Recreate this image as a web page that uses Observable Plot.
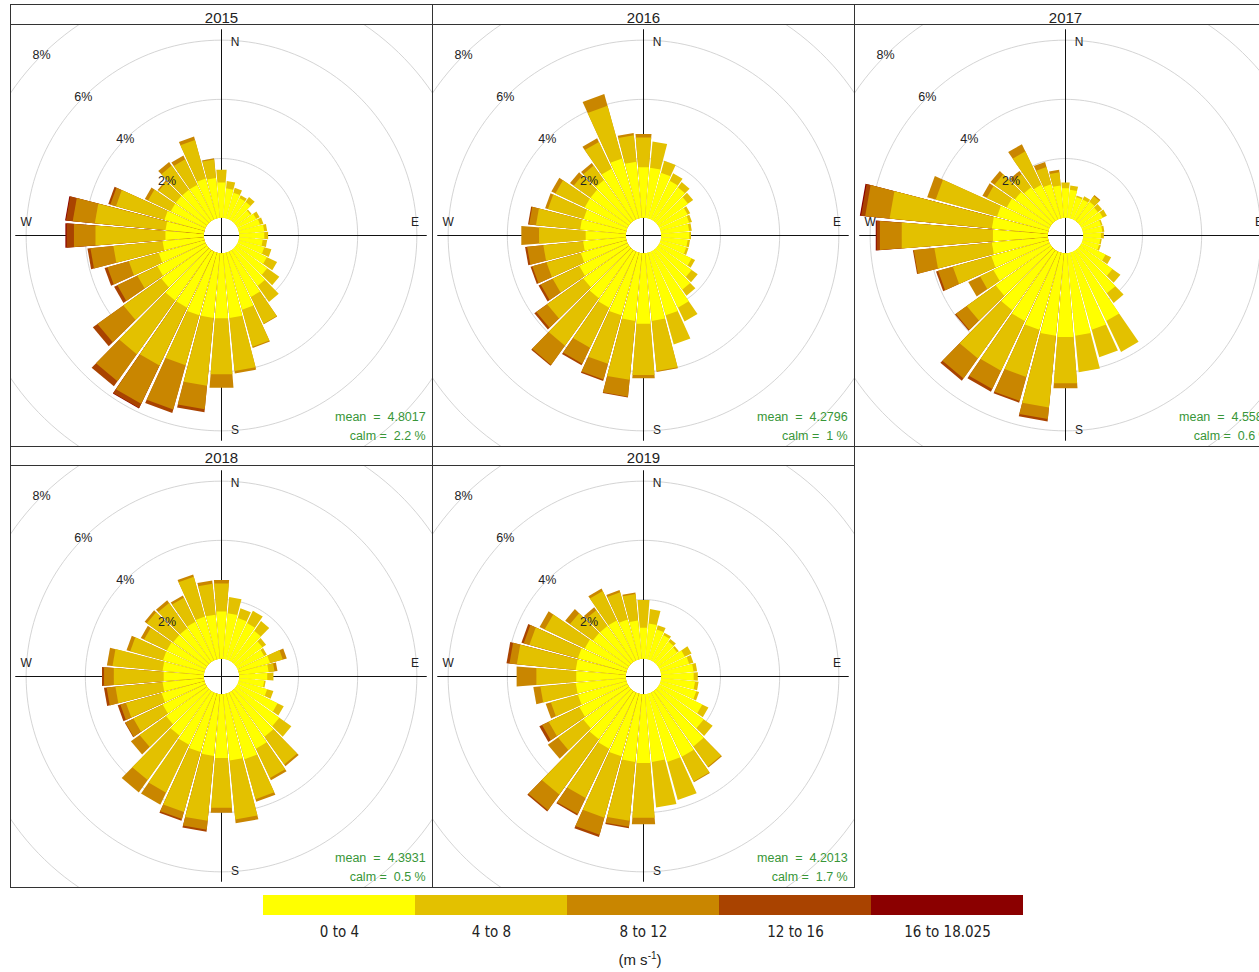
<!DOCTYPE html>
<html>
<head>
<meta charset="utf-8">
<script src="https://cdn.jsdelivr.net/npm/d3@7"></script>
<script src="https://cdn.jsdelivr.net/npm/@observablehq/plot@0.6"></script>
<style>
html, body { margin: 0; padding: 0; background: #fff; overflow: hidden; }
#root { position: relative; width: 1300px; height: 972px; overflow: hidden; }
.strip { position: absolute; box-sizing: border-box; border: 1px solid #333; background: #fff;
  font: 15px "Liberation Sans", Arial, sans-serif; color: #222; text-align: center; overflow: hidden; }
.panel { position: absolute; box-sizing: border-box; border: 1px solid #333; background: #fff; }
.panel svg { display: block; }
.unit { position: absolute; font: 15px "Liberation Sans Narrow", "Arial Narrow", sans-serif; color: #222; text-align: center; }
.unit sup { font-size: 10px; }
</style>
</head>
<body>
<div id="root"></div>
<script>
// ---------- categories ----------
const years = ["2015", "2016", "2017", "2018", "2019"];
const directions = [10,20,30,40,50,60,70,80,90,100,110,120,130,140,150,160,170,180,190,200,210,220,230,240,250,260,270,280,290,300,310,320,330,340,350,360];
const speedBins = ["0 to 4", "4 to 8", "8 to 12", "12 to 16", "16 to 18.025"];
const binColors = ["#FFFF00", "#E3C100", "#C98600", "#A94300", "#8B0000"];
const pctTicks = [2, 4, 6, 8, 10];
const pctTickLabels = ["2%", "4%", "6%", "8%"];
const cardinalLabels = ["N", "E", "S", "W"];
const meanValues = ["4.8017", "4.2796", "4.5581", "4.3931", "4.2013"];
const calmValues = ["2.2", "1", "0.6", "0.5", "1.7"];

// ---------- frequencies (% of time) by direction, one array per speed bin ----------
const y2015_0to4  = [1.0,0.9,0.8,0.8,0.6,0.7,0.75,0.85,0.85,0.8, 0.9,1.1,1.3,1.5,1.7,2.0,2.2,2.2,2.2,2.2, 2.1,2.1,1.9,1.8,1.6,1.4,1.3,1.3,1.4,1.3, 1.3,1.3,1.3,1.4,1.35,1.2];
const y2015_4to8  = [0.25,0.17,0.11,0.2,0.05,0.13,0.12,0.1,0.13,0.15, 0.25,0.38,0.5,0.66,1.0,1.3,1.8,1.9,2.3,1.75, 2.17,2.23,1.57,0.75,1.05,1.67,2.37,2.4,1.7,0.85, 0.7,1.0,0.95,1.35,0.63,0.43];
const y2015_8to12 = [0,0,0,0,0,0,0,0,0,0, 0,0,0,0,0.02,0.04,0.08,0.46,0.8,1.55, 1.43,1.12,1.08,0.75,0.75,0.78,0.73,0.75,0.2,0.12, 0.05,0.15,0.14,0.12,0.04,0];
const y2015_12to16= [0,0,0,0,0,0,0,0,0,0, 0,0,0,0,0,0,0,0,0.1,0.12, 0.16,0.21,0.19,0.12,0.1,0.1,0.25,0.23,0.07,0, 0,0,0,0,0,0];
const y2015_16up  = [0,0,0,0,0,0,0,0,0,0, 0,0,0,0,0,0,0,0,0,0, 0.02,0,0,0,0,0,0.04,0.03,0,0, 0,0,0,0,0,0];

const y2016_0to4  = [1.7,1.6,1.45,1.4,1.25,1.05,1.0,0.95,0.95,0.9, 0.9,1.2,1.4,1.65,2.1,2.2,2.3,2.39,2.3,2.2, 2.1,2.0,1.9,1.8,1.6,1.45,1.36,1.55,1.5,1.6, 1.6,1.7,1.9,2.1,1.9,1.71];
const y2016_4to8  = [0.89,0.42,0.28,0.22,0.21,0.1,0.1,0.09,0.06,0.08, 0.08,0.13,0.25,0.25,0.52,1.02,1.7,1.74,2.0,1.7, 1.5,1.97,1.5,1.0,1.2,1.35,1.58,1.5,1.25,1.1, 0.7,0.6,1.0,1.85,0.9,1.01];
const y2016_8to12 = [0,0,0,0,0,0,0,0,0,0, 0,0,0,0,0,0,0.03,0.11,0.57,0.55, 0.6,0.8,0.45,0.45,0.5,0.55,0.6,0.23,0.1,0.15, 0.15,0.11,0.14,0.41,0.08,0.12];
const y2016_12to16= [0,0,0,0,0,0,0,0,0,0, 0,0,0,0,0,0,0,0,0.03,0.05, 0.06,0.04,0.08,0.08,0.06,0.07,0,0.04,0,0, 0,0,0,0,0,0];
const y2016_16up  = [0,0,0,0,0,0,0,0,0,0, 0,0,0,0,0,0,0,0,0,0, 0,0,0,0,0,0,0,0,0,0, 0,0,0,0,0,0];

const y2017_0to4  = [0.95,0.75,0.75,0.8,0.75,0.8,0.65,0.65,0.6,0.58, 0.58,0.9,1.35,1.8,2.6,2.7,2.8,2.84,2.8,2.7, 2.6,2.5,2.3,2.1,2.0,1.9,1.86,1.9,1.8,1.6, 1.5,1.4,1.3,1.2,1.1,1.0];
const y2017_4to8  = [0.15,0.05,0.12,0.24,0.17,0.15,0.05,0.07,0.1,0.05, 0.06,0.21,0.33,0.4,1.16,0.97,1.24,1.57,2.44,1.66, 1.86,2.0,1.2,0.5,1.35,1.95,3.09,3.47,2.15,0.75, 0.85,0.55,1.25,0.6,0.45,0.2];
const y2017_8to12 = [0,0,0,0.04,0,0,0,0,0,0, 0,0,0,0,0,0,0,0.17,0.39,0.84, 0.69,0.83,0.45,0.44,0.52,0.7,0.74,0.83,0.3,0.16, 0.16,0.13,0.27,0.18,0.08,0];
const y2017_12to16= [0,0,0,0,0,0,0,0,0,0, 0,0,0,0,0,0,0,0,0.08,0.06, 0.1,0.1,0.04,0,0.07,0.03,0.11,0.14,0,0, 0,0,0,0,0,0];
const y2017_16up  = [0,0,0,0,0,0,0,0,0,0, 0,0,0,0,0,0,0,0,0,0, 0,0,0,0,0,0,0.03,0.04,0,0, 0,0,0,0,0,0];

const y2018_0to4  = [1.55,1.45,1.4,1.3,1.1,1.0,1.1,1.0,0.95,0.85, 1.0,1.5,1.8,1.9,2.1,2.3,2.25,2.16,2.1,2.05, 1.95,1.85,1.7,1.6,1.5,1.4,1.36,1.4,1.45,1.45, 1.4,1.4,1.45,1.5,1.5,1.6];
const y2018_4to8  = [0.55,0.34,0.46,0.4,0.15,0.1,0.45,0.2,0.21,0.05, 0.22,0.23,0.5,1.15,1.1,1.4,2.0,1.69,2.2,2.1, 1.8,1.85,1.1,1.1,1.25,1.6,1.69,1.7,1.15,0.85, 1.1,1.05,0.9,1.4,1.05,0.95];
const y2018_8to12 = [0,0,0,0,0,0,0.14,0.1,0,0, 0,0,0,0.07,0.08,0.09,0.13,0.17,0.3,0.25, 0.45,0.51,0.36,0.3,0.2,0.3,0.33,0.19,0.13,0.12, 0.09,0.11,0.08,0.08,0.11,0.12];
const y2018_12to16= [0,0,0,0,0,0,0,0,0,0, 0,0,0,0,0,0,0,0,0.07,0.06, 0,0,0,0.02,0.09,0.09,0.07,0,0,0, 0,0,0,0,0,0];
const y2018_16up  = [0,0,0,0,0,0,0,0,0,0, 0,0,0,0,0,0,0,0,0,0, 0,0,0,0,0,0,0,0,0,0, 0,0,0,0,0,0];

const y2019_0to4  = [1.2,1.05,0.95,0.85,0.8,0.95,1.0,1.1,1.1,1.15, 1.25,1.6,1.9,2.3,2.4,2.4,2.3,2.33,2.3,2.2, 2.1,2.0,1.9,1.8,1.7,1.7,1.68,1.7,1.7,1.6, 1.5,1.5,1.5,1.4,1.3,1.05];
const y2019_4to8  = [0.49,0.15,0.09,0.11,0.07,0.25,0.15,0.12,0.14,0.12, 0.1,0.23,0.37,0.84,0.93,1.33,1.55,1.86,2.0,2.15, 1.85,2.3,1.05,1.15,0.95,1.2,1.35,2.0,1.7,1.5, 0.95,0.65,1.1,0.95,0.9,0.94];
const y2019_8to12 = [0,0,0,0,0,0,0,0,0,0, 0,0,0,0.04,0.03,0,0,0.22,0.2,0.6, 0.6,0.65,0.42,0.25,0.18,0.24,0.67,0.25,0.2,0.19, 0.2,0.12,0.09,0.08,0.05,0];
const y2019_12to16= [0,0,0,0,0,0,0,0,0,0, 0,0,0,0,0,0,0,0,0.05,0.08, 0.05,0.05,0,0.1,0,0,0,0.1,0.08,0, 0,0,0,0,0,0];
const y2019_16up  = [0,0,0,0,0,0,0,0,0,0, 0,0,0,0,0,0,0,0,0,0, 0,0,0,0,0,0,0,0,0,0, 0,0,0,0,0,0];

const bandsByYear = [
  [y2015_0to4, y2015_4to8, y2015_8to12, y2015_12to16, y2015_16up],
  [y2016_0to4, y2016_4to8, y2016_8to12, y2016_12to16, y2016_16up],
  [y2017_0to4, y2017_4to8, y2017_8to12, y2017_12to16, y2017_16up],
  [y2018_0to4, y2018_4to8, y2018_8to12, y2018_12to16, y2018_16up],
  [y2019_0to4, y2019_4to8, y2019_8to12, y2019_12to16, y2019_16up]
];

// ---------- layout / geometry constants ----------
const OFFSET = 0.6;          // inner calm hole, in % units
const PX_PER_UNIT = 29.6;
const SIZE = 421;
const LO = 210 / PX_PER_UNIT, HI = 211 / PX_PER_UNIT;  // centre on a whole pixel
const HW = 4.5;              // half-width of a wedge, degrees
const AXL = 6.95;            // half length of the cross hair
const RAD = Math.PI / 180;
const FONT = '"Liberation Sans", Arial, sans-serif';
const NARROW = '"Liberation Sans Narrow", "Arial Narrow", "DejaVu Sans Condensed", sans-serif';
const panelPos = [[10, 24], [432, 24], [854, 24], [10, 465], [432, 465]];
const stripPos = [[10, 4, 21, 25], [432, 4, 21, 25], [854, 4, 21, 25], [10, 446, 20, 21], [432, 446, 20, 21]];

function polar(r, deg) { return {x: r * Math.sin(deg * RAD), y: r * Math.cos(deg * RAD)}; }

function wedgeRows(bands) {
  const rows = [];
  directions.forEach((d, i) => {
    const cum = Array.from(d3.cumsum(bands.map(b => b[i])));
    for (let b = bands.length - 1; b >= 0; --b) {
      if (!(bands[b][i] > 0)) continue;
      const id = d + "-" + b;
      const r0 = OFFSET, r1 = OFFSET + cum[b];
      for (const [r, a] of [[r0, d - HW], [r0, d + HW], [r1, d + HW], [r1, d - HW]]) {
        rows.push({id, bin: speedBins[b], ...polar(r, a)});
      }
    }
  });
  return rows;
}

const circleRows = [];
for (const k of pctTicks) for (let a = 0; a <= 360; a += 2) circleRows.push({k, ...polar(OFFSET + k, a)});

const cardinalPos = {N: [0.46, 6.53], E: [6.54, 0.45], S: [0.46, -6.59], W: [-6.6, 0.45]};

const root = document.getElementById("root");

years.forEach((yr, idx) => {
  const [sx, sy, sh, lh] = stripPos[idx];
  const strip = document.createElement("div");
  strip.className = "strip";
  Object.assign(strip.style, {left: sx + "px", top: sy + "px", width: "423px", height: sh + "px", lineHeight: lh + "px"});
  strip.textContent = yr;
  root.appendChild(strip);

  const [px, py] = panelPos[idx];
  const panel = document.createElement("div");
  panel.className = "panel";
  Object.assign(panel.style, {left: px + "px", top: py + "px", width: (SIZE + 2) + "px", height: (SIZE + 2) + "px"});

  const green = "#389638";
  const chart = Plot.plot({
    width: SIZE, height: SIZE, margin: 0,
    x: {domain: [-LO, HI], axis: null},
    y: {domain: [-HI, LO], axis: null},
    color: {domain: speedBins, range: binColors},
    style: {fontFamily: FONT, fontSize: "12px", background: "white", color: "#222"},
    marks: [
      Plot.line(circleRows, {x: "x", y: "y", z: "k", stroke: "#cfcfcf", strokeWidth: 0.9, clip: true}),
      Plot.ruleY([0], {x1: -AXL, x2: AXL, stroke: "#111", strokeWidth: 1}),
      Plot.ruleX([0], {y1: -AXL, y2: AXL, stroke: "#111", strokeWidth: 1}),
      Plot.text(cardinalLabels, {x: c => cardinalPos[c][0], y: c => cardinalPos[c][1], text: c => c, fill: "#222", fontSize: 12}),
      Plot.line(wedgeRows(bandsByYear[idx]), {x: "x", y: "y", z: "id", fill: "bin", stroke: "none", curve: "linear-closed", clip: true}),
      Plot.text(pctTicks.slice(0, 4), {
        x: k => -(OFFSET + k) * Math.SQRT1_2, y: k => (OFFSET + k) * Math.SQRT1_2,
        text: (k, i) => pctTickLabels[i], fill: "#222", fontSize: 12.5
      }),
      Plot.text([meanValues[idx]], {x: 6.9, y: -6.14, text: v => "mean\u00a0\u00a0=\u00a0\u00a0" + v, textAnchor: "end", fill: green, fontSize: 12.5}),
      Plot.text([calmValues[idx]], {x: 6.9, y: -6.78, text: v => "calm\u00a0=\u00a0\u00a0" + v + "\u00a0%", textAnchor: "end", fill: green, fontSize: 12.5})
    ]
  });
  panel.appendChild(chart);
  root.appendChild(panel);
});

// ---------- legend ----------
const legend = Plot.plot({
  width: 760, height: 52, marginTop: 0, marginBottom: 32, marginLeft: 0, marginRight: 0,
  x: {domain: speedBins, padding: 0, tickSize: 0, tickPadding: 11, label: null, axis: "bottom"},
  color: {domain: speedBins, range: binColors},
  style: {fontFamily: NARROW, fontSize: "15px", color: "#222", background: "white"},
  marks: [Plot.cell(speedBins, {x: d => d, fill: d => d})]
});
const legWrap = document.createElement("div");
Object.assign(legWrap.style, {position: "absolute", left: "263px", top: "895px"});
legWrap.appendChild(legend);
root.appendChild(legWrap);

const unit = document.createElement("div");
unit.className = "unit";
Object.assign(unit.style, {left: "590px", top: "950px", width: "100px"});
unit.innerHTML = "(m s<sup>-1</sup>)";
root.appendChild(unit);
</script>
</body>
</html>
